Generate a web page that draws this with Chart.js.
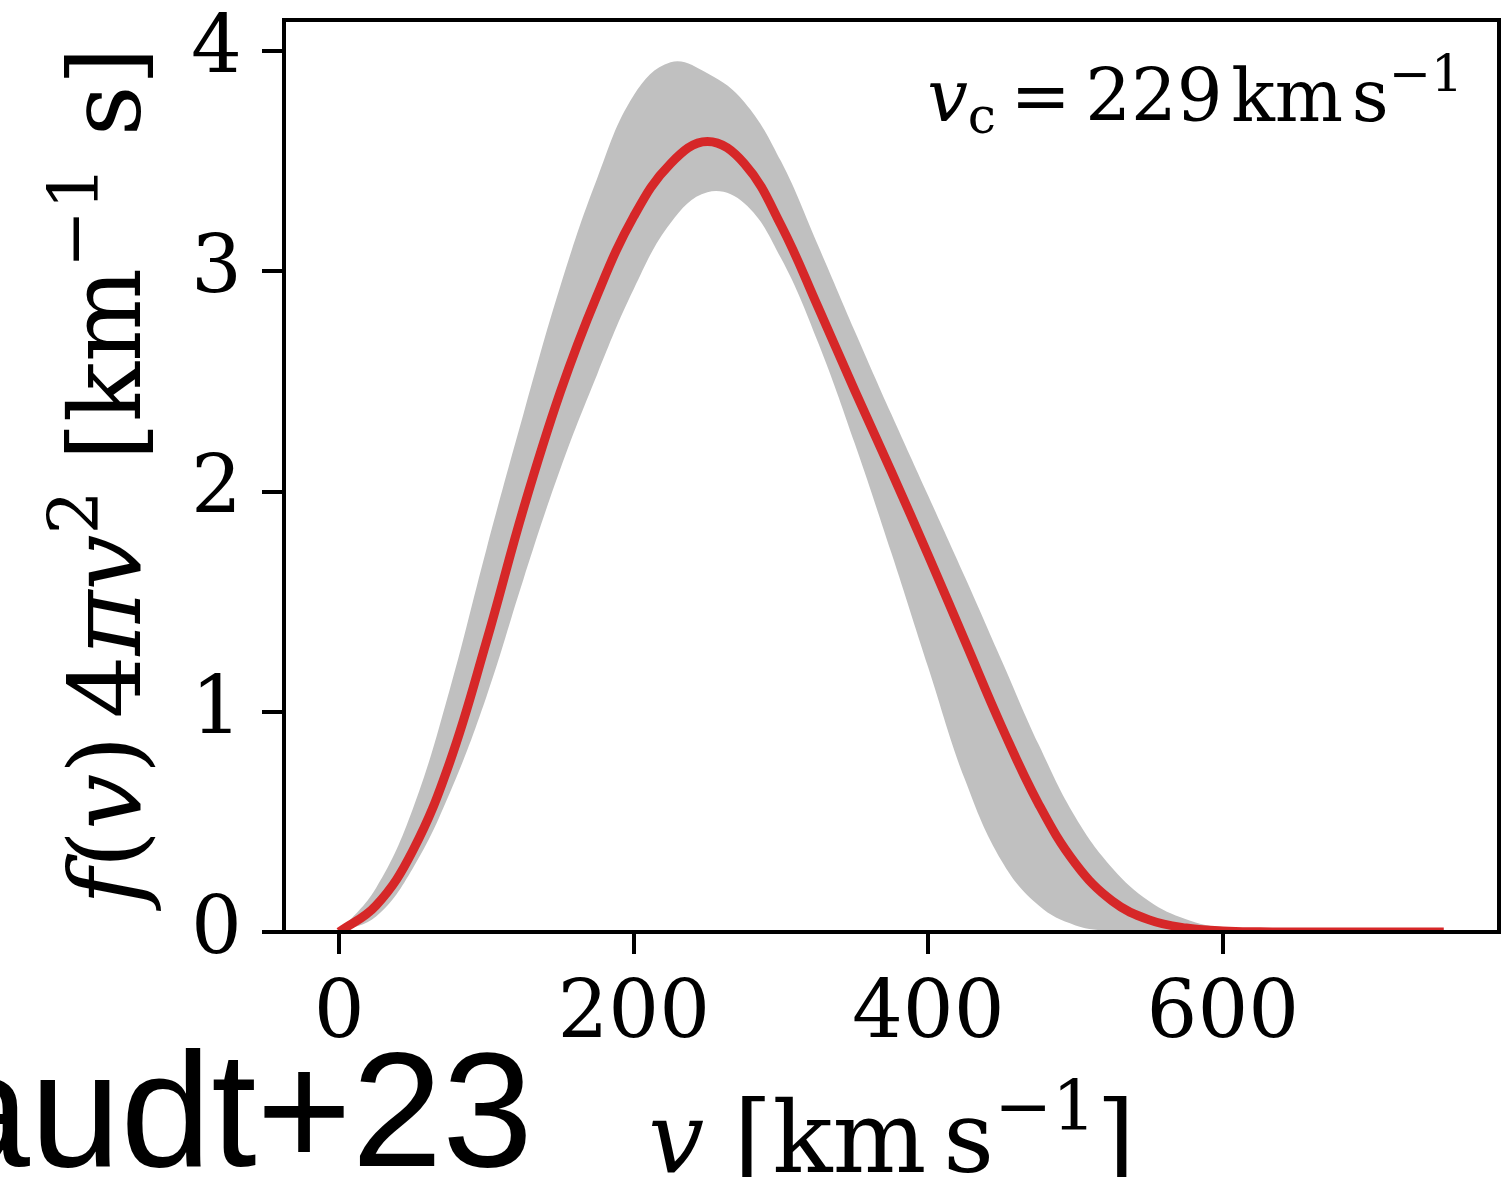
<!DOCTYPE html>
<html><head><meta charset="utf-8">
<script src="https://cdn.jsdelivr.net/npm/chart.js@4"></script>
<style>html,body{margin:0;padding:0;background:#fff;overflow:hidden}</style>
</head><body>
<canvas id="c" width="1512" height="1177"></canvas>
<script>
// ---- data ----
const velocity = [0,25,50,75,100,125,150,175,200,225,250,275,300,325,350,375,400,425,450,475,500,525,550,575,600,625,650,675,700,725,750];
const fMean  = [0,0.12,0.37,0.77,1.32,1.92,2.45,2.89,3.25,3.49,3.59,3.49,3.21,2.84,2.46,2.09,1.71,1.32,0.93,0.58,0.31,0.14,0.055,0.018,0.005,0.001,0,0,0,0,0];
const fUpper = [0,0.20,0.56,1.10,1.74,2.35,2.93,3.42,3.80,3.95,3.90,3.77,3.50,3.12,2.73,2.35,1.98,1.61,1.23,0.85,0.52,0.29,0.14,0.058,0.018,0.004,0,0,0,0,0];
const fLower = [0,0.07,0.29,0.63,1.07,1.60,2.10,2.53,2.92,3.22,3.36,3.31,3.06,2.68,2.22,1.72,1.20,0.69,0.32,0.12,0.03,0.005,0,0,0,0,0,0,0,0,0];
const xTicks = [0,200,400,600];
const yTicks = [0,1,2,3,4];
const vcValue = '229';
const sideLabel = 'audt+23';

const SERIF = '"DejaVu Serif"';
function pts(ys){ return velocity.map((v,i)=>({x:v,y:ys[i]})); }

function drawRuns(ctx, runs, x, y, align, base){
  const items = runs.map(r=>{
    const size = (r.sup||r.sub) ? base*0.7 : base;
    const font = (r.it?'italic ':'') + size + 'px ' + SERIF;
    ctx.font = font;
    const w = r.gap!==undefined ? r.gap*base : ctx.measureText(r.t).width;
    return Object.assign({}, r, {size, font, w});
  });
  const total = items.reduce((a,b)=>a+b.w,0);
  let cx = align==='center' ? x-total/2 : (align==='right' ? x-total : x);
  ctx.textAlign='left'; ctx.textBaseline='alphabetic'; ctx.fillStyle='#000';
  for(const it of items){
    if(it.gap===undefined){
      ctx.font = it.font;
      const dy = it.sup ? -base*0.42 : (it.sub ? base*0.16 : 0);
      ctx.fillText(it.t, cx, y+dy);
    }
    cx += it.w;
  }
}

const decor = {
  id:'decor',
  afterDatasetsDraw(chart){
    const {ctx, chartArea:a} = chart;
    ctx.save();
    ctx.strokeStyle='#000'; ctx.lineWidth=4;
    ctx.beginPath();
    ctx.moveTo(a.left, a.top); ctx.lineTo(a.right, a.top); ctx.lineTo(a.right, a.bottom);
    ctx.stroke();
    ctx.restore();
  },
  afterDraw(chart){
    const {ctx, chartArea:a} = chart;
    ctx.save();
    // annotation
    drawRuns(ctx, [
      {t:'v', it:true}, {t:'c', sub:true}, {gap:0.2}, {t:'='}, {gap:0.2}, {t:vcValue}, {gap:0.12}, {t:'km'}, {gap:0.12}, {t:'s'}, {t:'\u22121', sup:true}
    ], a.right-36, 121, 'right', 72);
    // x title
    drawRuns(ctx, [
      {t:'v', it:true}, {gap:0.3}, {t:'[km'}, {gap:0.17}, {t:'s'}, {t:'\u22121', sup:true}, {t:']'}
    ], (a.left+a.right)/2, 1172, 'center', 99);
    // y title
    ctx.save();
    ctx.translate(140, (a.top+a.bottom)/2);
    ctx.rotate(-Math.PI/2);
    drawRuns(ctx, [
      {t:'f', it:true}, {t:'('}, {t:'v', it:true}, {t:')'}, {gap:0.17}, {t:'4'}, {t:'\u03c0', it:true}, {t:'v', it:true}, {t:'2', sup:true},
      {gap:0.3}, {t:'[km'}, {t:'\u22121', sup:true}, {gap:0.3}, {t:'s]'}
    ], 0, 0, 'center', 99);
    ctx.restore();
    // side label
    ctx.font = '163px "Liberation Sans", Arial, sans-serif';
    ctx.textAlign='right'; ctx.textBaseline='alphabetic'; ctx.fillStyle='#000';
    ctx.fillText(sideLabel, 533, 1166);
    ctx.restore();
  }
};

const axisCommon = {
  grid:{drawOnChartArea:false, drawTicks:true, tickLength:22, color:'#000', lineWidth:4, tickWidth:4},
  border:{display:true, color:'#000', width:4, z:1},
};
function noPad(s){ s.paddingTop=0; s.paddingBottom=0; s.paddingLeft=0; s.paddingRight=0; }

const lineCommon = {pointRadius:0, cubicInterpolationMode:'default', tension:0.4};

new Chart(document.getElementById('c').getContext('2d'), {
  type:'line',
  data:{datasets:[
    Object.assign({label:'upper', data:pts(fUpper), borderWidth:0, fill:'+1', backgroundColor:'#c0c0c0', order:1}, lineCommon),
    Object.assign({label:'lower', data:pts(fLower), borderWidth:0, fill:false, backgroundColor:'#c0c0c0', order:2}, lineCommon),
    Object.assign({label:'mean', data:pts(fMean), borderColor:'#d62728', borderWidth:9, fill:false, order:0}, lineCommon)
  ]},
  options:{
    responsive:false, animation:false, events:[],
    layout:{padding:{top:20, right:13, left:0, bottom:0}, autoPadding:false},
    plugins:{legend:{display:false}, tooltip:{enabled:false}},
    scales:{
      x:Object.assign({type:'linear', min:-37.5, max:787.5,
        afterBuildTicks:s=>{s.ticks = xTicks.map(v=>({value:v}));},
        afterFit:s=>{s.height=245; noPad(s);},
        ticks:{font:{family:'DejaVu Serif', size:80}, color:'#000', padding:14, maxRotation:0, autoSkip:false}
      }, axisCommon),
      y:Object.assign({type:'linear', min:0, max:4.142,
        afterBuildTicks:s=>{s.ticks = yTicks.map(v=>({value:v}));},
        afterFit:s=>{s.width=284; noPad(s);},
        ticks:{font:{family:'DejaVu Serif', size:80}, color:'#000', padding:20, autoSkip:false}
      }, axisCommon)
    }
  },
  plugins:[decor]
});
</script>
</body></html>
